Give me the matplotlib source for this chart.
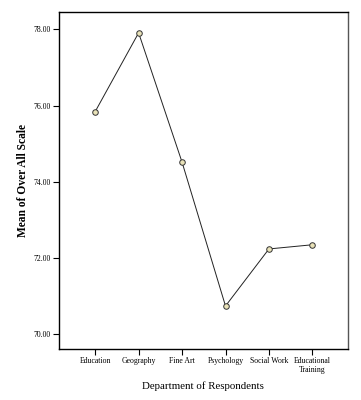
import matplotlib
matplotlib.use("Agg")
import matplotlib.pyplot as plt

# data
departments = ["Education", "Geography", "Fine Art", "Psychology",
               "Social Work", "Educational\nTraining"]
means = [75.84, 77.91, 74.51, 70.73, 72.23, 72.34]
yticks = [70.0, 72.0, 74.0, 76.0, 78.0]

plt.rcParams['font.family'] = ['Liberation Serif', 'DejaVu Serif']

fig = plt.figure(figsize=(3.61, 4.0), dpi=100)
ax = fig.add_axes([58.7/361, 1 - 349/400, (348 - 58.7)/361, (349 - 12.3)/400])

x = list(range(len(departments)))
ax.plot(x, means, color="#222222", lw=0.7, marker="o", markersize=4,
        markerfacecolor="#e9e2b8", markeredgecolor="#333333", markeredgewidth=0.7)

ax.set_xlim(-0.84, 5.82)
ax.set_ylim(69.6, 78.45)
ax.set_xticks(x)
ax.set_xticklabels(departments, fontsize=5.6, linespacing=1.1)
ax.set_yticks(yticks)
ax.set_yticklabels(["%.2f" % v for v in yticks], fontsize=5.6)
ax.tick_params(direction="out", length=4, width=0.8, pad=2)

for s in ax.spines.values():
    s.set_linewidth(1.0)
ax.spines["right"].set_color("#555555")

ax.set_xlabel("Department of Respondents", fontsize=7.8, labelpad=5)
ax.set_ylabel("Mean of Over All Scale", fontsize=8.3, fontweight="bold", labelpad=3)

fig.savefig("out.png", dpi=100)
